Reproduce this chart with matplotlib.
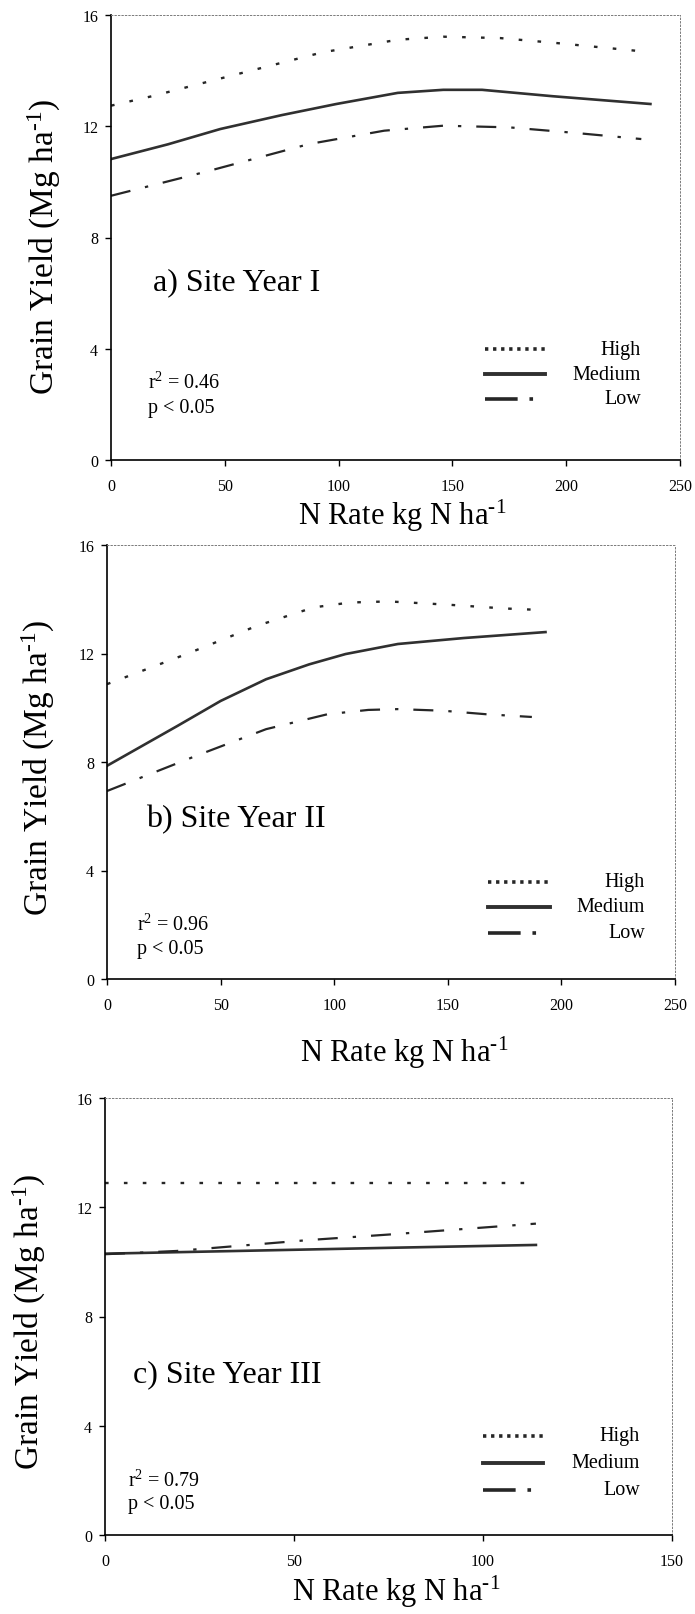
import matplotlib

matplotlib.use("Agg")
import matplotlib.pyplot as plt

plt.rcParams["font.family"] = ["Liberation Serif", "DejaVu Serif"]
plt.rcParams["lines.scale_dashes"] = False
plt.rcParams["mathtext.fontset"] = "custom"
plt.rcParams["mathtext.rm"] = "Liberation Serif"
plt.rcParams["mathtext.it"] = "Liberation Serif:italic"

# N rate (kg N/ha) and grain yield (Mg/ha) for each site year
n_rate_1_high = [0, 18, 52, 93, 126, 146, 171, 196, 230, 232]
yield_1_high = [12.74, 13.08, 13.80, 14.66, 15.11, 15.22, 15.17, 14.99, 14.72, 14.70]
n_rate_1_med = [0, 25, 48, 75, 99, 126, 146, 163, 194, 237]
yield_1_med = [10.82, 11.35, 11.90, 12.40, 12.80, 13.20, 13.31, 13.31, 13.08, 12.80]
n_rate_1_low = [0, 41, 87, 120, 146, 175, 204, 233]
yield_1_low = [9.50, 10.35, 11.36, 11.84, 12.02, 11.96, 11.76, 11.54]

n_rate_2_high = [0, 35, 66, 91, 107, 124, 150, 175, 192]
yield_2_high = [10.87, 11.98, 13.02, 13.70, 13.88, 13.92, 13.80, 13.66, 13.60]
n_rate_2_med = [0, 31, 50, 70, 89, 105, 128, 157, 193]
yield_2_med = [7.86, 9.33, 10.25, 11.05, 11.60, 11.98, 12.35, 12.57, 12.79]
n_rate_2_low = [0, 39, 70, 97, 115, 128, 148, 167, 187]
yield_2_low = [6.93, 8.22, 9.21, 9.76, 9.92, 9.95, 9.89, 9.76, 9.66]

n_rate_3_high = [0, 114]
yield_3_high = [12.87, 12.87]
n_rate_3_med = [0, 77, 114]
yield_3_med = [10.30, 10.52, 10.62]
n_rate_3_low = [0, 19, 54, 75, 114]
yield_3_low = [10.28, 10.40, 10.80, 11.00, 11.40]

y_ticks = [0, 4, 8, 12, 16]
titles = ["a) Site Year I", "b) Site Year II", "c) Site Year III"]
r_squared = ["0.46", "0.96", "0.79"]
x_limits = [250, 250, 150]
series_names = ["High", "Medium", "Low"]

INK = "#262626"
STYLES = {
    "High": dict(color=INK, lw=1.7, dashes=(2.6, 11.0), dash_capstyle="butt"),
    "Medium": dict(color="#303030", lw=1.9, ls="-"),
    "Low": dict(color=INK, lw=1.6, dashes=(14.4, 10.8, 2.4, 10.8), dash_capstyle="butt"),
}
KEY_STYLES = {
    "High": dict(color=INK, lw=2.6, dashes=(2.4, 3.4), dash_capstyle="butt"),
    "Medium": dict(color="#303030", lw=2.8, ls="-"),
    "Low": dict(color=INK, lw=2.6, dashes=(23.5, 8.5, 2.6, 30), dash_capstyle="butt"),
}

# axes boxes in pixels: left, top, right, bottom
W, H = 695, 1615
AX_BOXES = [(111, 16, 680, 461), (107, 546, 675, 980), (105, 1099, 672, 1536)]
# per panel: title (x, y), r2 (x, y), p (x, y), key line x0, x1, key text x, key rows
NOTES = [
    dict(title=(153, 283), r2=(148, 383), p=(148, 408), key=(485, 545, 641), rows=(350, 375, 400)),
    dict(title=(146, 820), r2=(137, 925), p=(137, 950), key=(488, 550, 645), rows=(883, 908, 934)),
    dict(title=(133, 1375), r2=(128, 1481), p=(128, 1505), key=(483, 543, 640), rows=(1437, 1464, 1491)),
]
YLABEL_POS = [(44, 247), (38, 768), (29, 1322)]
XLABEL_POS = [(402, 516), (404, 1053), (396, 1592)]

SUP = r"$^{\text{-1}}$"


def fig_xy(px, py):
    return px / W, 1 - py / H


def draw_panel(fig, idx, curves):
    left, top, right, bottom = AX_BOXES[idx]
    ax = fig.add_axes([left / W, 1 - bottom / H, (right - left) / W, (bottom - top) / H])

    for name, (xs, ys) in zip(series_names, curves):
        ax.plot(xs, ys, **STYLES[name])

    ax.set_xlim(0, x_limits[idx])
    ax.set_ylim(0, 16)
    ax.set_yticks(y_ticks)
    ax.set_xticks(range(0, x_limits[idx] + 1, 50))
    ax.tick_params(axis="both", direction="out", length=4.2, width=1.0, labelsize=11.5, color="black")
    ax.tick_params(axis="x", pad=9)
    ax.tick_params(axis="y", pad=5)
    for side in ("left", "bottom"):
        ax.spines[side].set_linewidth(1.2)
        ax.spines[side].set_color("black")
    for side in ("top", "right"):
        ax.spines[side].set_linestyle((0, (1, 1.5)))
        ax.spines[side].set_linewidth(0.7)
        ax.spines[side].set_color("#7a7a7a")

    note = NOTES[idx]
    tx, ty = fig_xy(*note["title"])
    fig.text(tx, ty, titles[idx], fontsize=23, ha="left", va="center")
    rx, ry = fig_xy(*note["r2"])
    fig.text(rx, ry, r"r$^{2}$ = " + r_squared[idx], fontsize=14.5, ha="left", va="center")
    px, py = fig_xy(*note["p"])
    fig.text(px, py, "p < 0.05", fontsize=14.5, ha="left", va="center")

    # key: sample line on the left, name right-aligned
    x0, x1, xt = note["key"]
    for name, row in zip(series_names, note["rows"]):
        a0, ay = fig_xy(x0, row)
        a1, _ = fig_xy(x1, row)
        fig.add_artist(plt.Line2D([a0, a1], [ay, ay], transform=fig.transFigure, **KEY_STYLES[name]))
        kx, ky = fig_xy(xt, row)
        fig.text(kx, ky, name, fontsize=14.5, ha="right", va="center")

    lx, ly = fig_xy(*YLABEL_POS[idx])
    fig.text(lx, ly, "Grain Yield (Mg ha" + SUP + ")", fontsize=24,
             rotation=90, ha="center", va="center")
    xx, xy = fig_xy(*XLABEL_POS[idx])
    fig.text(xx, xy, "N Rate kg N ha" + SUP, fontsize=22, ha="center", va="center")
    return ax


def main() -> None:
    fig = plt.figure(figsize=(W / 100, H / 100), dpi=100)
    panels = [
        [(n_rate_1_high, yield_1_high), (n_rate_1_med, yield_1_med), (n_rate_1_low, yield_1_low)],
        [(n_rate_2_high, yield_2_high), (n_rate_2_med, yield_2_med), (n_rate_2_low, yield_2_low)],
        [(n_rate_3_high, yield_3_high), (n_rate_3_med, yield_3_med), (n_rate_3_low, yield_3_low)],
    ]
    for idx, curves in enumerate(panels):
        draw_panel(fig, idx, curves)
    fig.savefig("out.png", dpi=100)
    plt.close(fig)


if __name__ == "__main__":
    main()
